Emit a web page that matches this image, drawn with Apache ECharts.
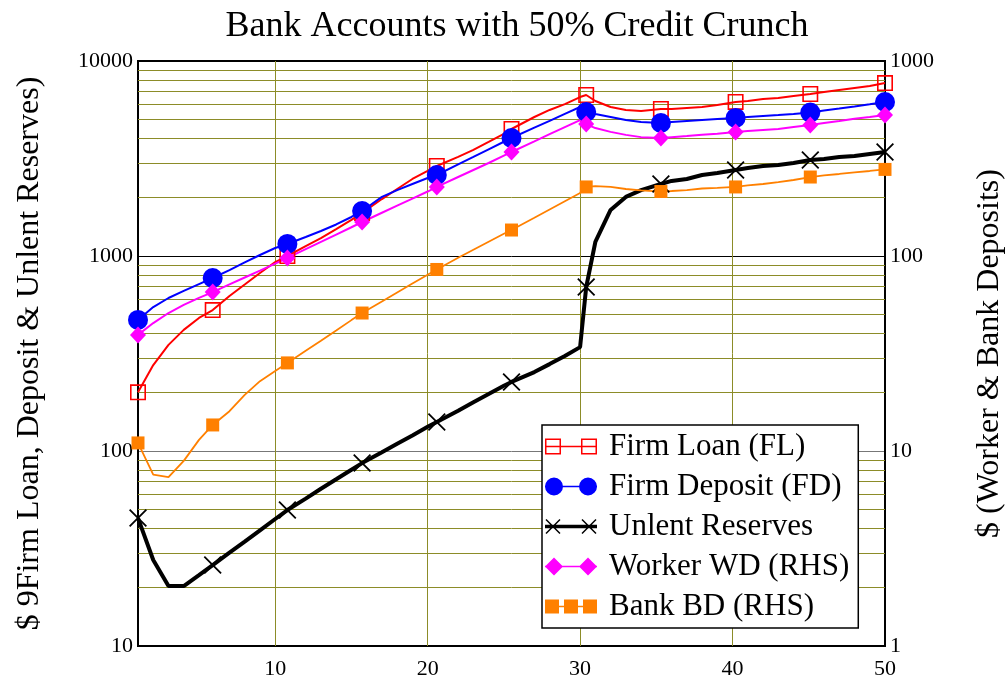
<!DOCTYPE html>
<html>
<head>
<meta charset="utf-8">
<title>Bank Accounts with 50% Credit Crunch</title>
<script src="https://cdn.jsdelivr.net/npm/echarts@6/dist/echarts.min.js"></script>
<style>
	html, body { margin: 0; padding: 0; background: #fff; }
	#chart { width: 1005px; height: 681px; }
</style>
</head>
<body>
<div id="chart"></div>
<script>
// time steps; every fifth one carries a marker
var days = [1, 2, 3, 4, 5, 5.9, 7, 8, 9, 10, 10.8, 12, 13, 14, 15, 15.7, 17, 18, 19, 20,
	20.6, 22, 23, 24, 25, 25.5, 27, 28, 29, 30, 30.4, 31, 32, 33, 34, 35.3, 36, 37, 38, 39,
	40.2, 41, 42, 43, 44, 45.1, 46, 47, 48, 49, 50];

// left axis
var firmLoan = [200, 276, 350, 418, 481, 528, 624, 714, 818, 931,
	1000, 1125, 1236, 1374, 1531, 1663, 1959, 2206, 2483, 2729,
	2895, 3221, 3499, 3844, 4225, 4480, 5162, 5610, 6012, 6534,
	6695, 6237, 5808, 5610, 5546, 5675, 5675, 5741, 5808, 5943,
	6166, 6237, 6383, 6457, 6615, 6774, 6934, 7098, 7265, 7436, 7709];
var firmDeposit = [470, 547, 609, 662, 718, 771, 847, 927, 1012, 1099,
	1153, 1252, 1343, 1451, 1585, 1702, 2009, 2178, 2340, 2512,
	2602, 2951, 3221, 3524, 3853, 4027, 4550, 4933, 5355, 5808,
	5474, 5346, 5162, 4979, 4864, 4808, 4864, 4920, 4979, 5038,
	5108, 5162, 5224, 5282, 5346, 5440, 5572, 5702, 5843, 5993, 6166];
var unlentReserves = [45.3, 27.6, 20.3, 20.3, 23.1, 26.0, 30.1, 34.3, 39.2, 44.8,
	49.8, 57, 64, 71.6, 80.2, 86.7, 98.6, 109, 120, 133,
	141, 161, 178, 196, 216, 226, 254, 279, 307, 341,
	693, 1180, 1722, 2009, 2178, 2340, 2426, 2483, 2602, 2666,
	2761, 2826, 2897, 2931, 3000, 3107, 3144, 3221, 3258, 3335, 3414];
// right axis
var workerWD = [39.4, 45.3, 51.0, 56.1, 61.0, 65.3, 71.5, 77.6, 84.1, 91.3,
	97.7, 108.4, 118.2, 128.8, 140.4, 149.4, 166.7, 181.2, 196.9, 214.1,
	226, 254.1, 276.1, 299.9, 327.3, 341.4, 387.3, 421.7, 458.3, 497.7,
	475, 453, 433, 418, 407, 403, 407, 412, 418, 423,
	433, 438, 443, 448, 459, 470, 481, 492, 505, 516, 528];
var bankBD = [11.0, 7.56, 7.35, 8.9, 11.4, 13.6, 16.0, 19.4, 22.8, 25.7,
	28.3, 32.7, 36.8, 41.5, 46.9, 51.0, 58.5, 65.0, 72.2, 80.2,
	85.3, 98.0, 107.7, 118.3, 130.0, 135.9, 157.0, 173.1, 190.9, 210.4,
	226.0, 228.4, 226.0, 220.6, 216.8, 214.1, 215.4, 217.8, 221.9, 223.3,
	226.0, 230.3, 234.0, 239.5, 245.3, 254.1, 258.8, 263.4, 268.5, 272.9, 278.0];

var xTicks = [10, 20, 30, 40, 50];
var xGrid = [10, 20, 30, 40];
var minorGrid = [20, 30, 40, 50, 60, 70, 80, 90,
	200, 300, 400, 500, 600, 700, 800, 900,
	2000, 3000, 4000, 5000, 6000, 7000, 8000, 9000];

var serif = 'Liberation Serif';
var olive = '#8c8c28';

// marker shapes (filled paths so the legend takes the series colour)
var ringSquare = 'path://M0,0L16,0L16,16L0,16ZM1.6,1.6L1.6,14.4L14.4,14.4L14.4,1.6Z';
var cross = 'path://M1.53,0.47L15.53,14.47L14.47,15.53L0.47,1.53ZM0.47,14.47L14.47,0.47L15.53,1.53L1.53,15.53Z';

var icons = {
	fl: 'path://M0,1L16,1L16,17L0,17ZM1.5,2.5L1.5,15.5L14.5,15.5L14.5,2.5Z' +
		'M36,1L52,1L52,17L36,17ZM37.5,2.5L37.5,15.5L50.5,15.5L50.5,2.5Z' +
		'M0,8.25L52,8.25L52,9.75L0,9.75Z',
	fd: 'path://M0,9A9,9,0,1,1,18,9A9,9,0,1,1,0,9Z' +
		'M34,9A9,9,0,1,1,52,9A9,9,0,1,1,34,9Z' +
		'M0,8.25L52,8.25L52,9.75L0,9.75Z',
	ur: 'path://M0,6.25L52,6.25L52,9.75L0,9.75Z' +
		'M1.53,0.47L15.53,14.47L14.47,15.53L0.47,1.53Z' +
		'M0.47,14.47L14.47,0.47L15.53,1.53L1.53,15.53Z' +
		'M37.53,0.47L51.53,14.47L50.47,15.53L36.47,1.53Z' +
		'M36.47,14.47L50.47,0.47L51.53,1.53L37.53,15.53Z',
	wd: 'path://M9,0L18,9L9,18L0,9ZM43,0L52,9L43,18L34,9Z' +
		'M0,8.25L52,8.25L52,9.75L0,9.75Z',
	bd: 'path://M0,2L14,2L14,16L0,16ZM19,2L33,2L33,16L19,16ZM38,2L52,2L52,16L38,16Z' +
		'M0,8.25L52,8.25L52,9.75L0,9.75Z'
};

function pairs(vals){
	var out = [];
	for (var i = 0; i < days.length; i++) {
		if (i % 5 === 0) {
			out.push([days[i], vals[i]]);
		} else {
			out.push({value: [days[i], vals[i]], symbol: 'none'});
		}
	}
	return out;
}

function makeSeries(name, vals, axis, color, width, symbol, size){
	return {
		name: name,
		type: 'line',
		yAxisIndex: axis,
		data: pairs(vals),
		symbol: symbol,
		symbolSize: size,
		showAllSymbol: true,
		lineStyle: {color: color, width: width},
		itemStyle: {color: color, borderWidth: 0},
		emphasis: {disabled: true}
	};
}

function plain(v){
	return String(Math.round(v));
}

var gridLines = [];
for (var i = 0; i < minorGrid.length; i++) gridLines.push({yAxis: minorGrid[i]});
for (var j = 0; j < xGrid.length; j++) gridLines.push({xAxis: xGrid[j]});

var series = [
	makeSeries('Firm Loan (FL)', firmLoan, 0, '#ff0000', 2, ringSquare, 16),
	makeSeries('Firm Deposit (FD)', firmDeposit, 0, '#0000ff', 2, 'circle', 20),
	makeSeries('Unlent Reserves', unlentReserves, 0, '#000000', 4, cross, 18),
	makeSeries('Worker WD (RHS)', workerWD, 1, '#ff00ff', 2, 'diamond', [16, 17]),
	makeSeries('Bank BD (RHS)', bankBD, 1, '#ff8000', 1.8, 'rect', 13)
];
series[0].markLine = {
	silent: true,
	z: 1,
	animation: false,
	symbol: ['none', 'none'],
	label: {show: false},
	lineStyle: {color: olive, width: 1, type: 'solid'},
	emphasis: {disabled: true},
	data: gridLines
};

var option = {
	animation: false,
	backgroundColor: '#fff',
	title: {
		text: 'Bank Accounts with 50% Credit Crunch',
		left: 512,
		textAlign: 'center',
		top: 4,
		textStyle: {fontFamily: serif, fontSize: 36, fontWeight: 'normal', color: '#000'}
	},
	grid: {
		left: 138, right: 120, top: 61, bottom: 35,
		outerBoundsMode: 'none',
		containLabel: false,
		show: true, borderColor: '#000', borderWidth: 2, backgroundColor: 'transparent'
	},
	legend: {
		orient: 'vertical',
		left: 542,
		top: 425,
		itemWidth: 52,
		itemHeight: 18,
		itemGap: 9,
		padding: [6, 9, 6, 3],
		backgroundColor: '#fff',
		borderColor: '#000',
		borderWidth: 1.5,
		selectedMode: false,
		itemStyle: {borderWidth: 0},
		textStyle: {fontFamily: serif, fontSize: 31, lineHeight: 31, color: '#000', padding: [0, 0, 0, 7]},
		data: [
			{name: 'Firm Loan (FL)', icon: icons.fl},
			{name: 'Firm Deposit (FD)', icon: icons.fd},
			{name: 'Unlent Reserves', icon: icons.ur},
			{name: 'Worker WD (RHS)', icon: icons.wd},
			{name: 'Bank BD (RHS)', icon: icons.bd}
		]
	},
	xAxis: {
		type: 'value',
		min: 1,
		max: 50,
		axisLine: {lineStyle: {color: '#000', width: 2}},
		axisTick: {show: false},
		splitLine: {show: false},
		axisLabel: {customValues: xTicks, color: '#000', fontFamily: serif, fontSize: 22, margin: 12}
	},
	yAxis: [{
		type: 'log',
		logBase: 10,
		min: 10,
		max: 10000,
		position: 'left',
		name: '$ 9Firm Loan, Deposit & Unlent Reserves)',
		nameLocation: 'middle',
		nameRotate: 90,
		nameGap: 92,
		nameMoveOverlap: false,
		nameTextStyle: {fontFamily: serif, fontSize: 32, color: '#000'},
		axisLine: {show: true, lineStyle: {color: '#000', width: 2}},
		axisTick: {show: false},
		axisLabel: {color: '#000', fontFamily: serif, fontSize: 22, margin: 5, padding: [12, 0, 0, 0], formatter: plain},
		splitLine: {show: true, lineStyle: {color: ['#000', '#777', '#000', '#000'], width: 1}}
	}, {
		type: 'log',
		logBase: 10,
		min: 1,
		max: 1000,
		position: 'right',
		name: '$ (Worker & Bank Deposits)',
		nameLocation: 'middle',
		nameRotate: 90,
		nameGap: 89,
		nameMoveOverlap: false,
		nameTextStyle: {fontFamily: serif, fontSize: 32, color: '#000'},
		axisLine: {show: true, lineStyle: {color: '#000', width: 2}},
		axisTick: {show: false},
		axisLabel: {color: '#000', fontFamily: serif, fontSize: 22, margin: 5, padding: [12, 0, 0, 0], formatter: plain},
		splitLine: {show: false}
	}],
	series: series
};

var chart = echarts.init(document.getElementById('chart'));
chart.setOption(option);
</script>
</body>
</html>
